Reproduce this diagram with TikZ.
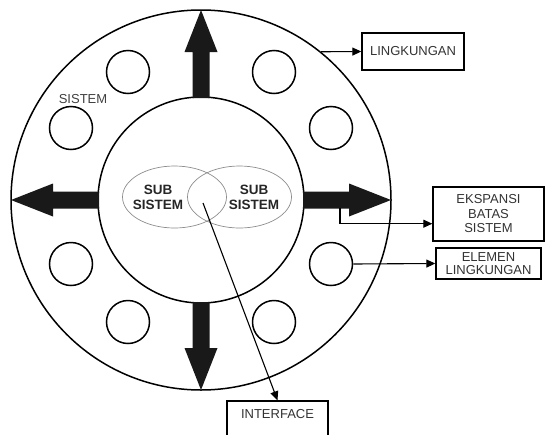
\documentclass[tikz,border=0pt]{standalone}
\usepackage{fontspec}
\setmainfont{Liberation Sans}
\usetikzlibrary{shapes.geometric,arrows.meta}

\begin{document}
\begin{tikzpicture}[x=1pt,y=-1pt,
  ring/.style={circle,draw,line width=1.5pt,inner sep=0pt},
  elem/.style={circle,draw,line width=1.5pt,minimum size=43pt,inner sep=0pt},
  sub/.style={ellipse,draw=black!45,line width=0.7pt,minimum width=104pt,minimum height=62pt,inner sep=0pt},
  subtext/.style={align=center,font=\fontsize{13.5}{15}\selectfont\bfseries,text=black!85,inner sep=0pt},
  labelbox/.style={draw,line width=1.4pt,inner sep=0pt,align=center,
    font=\fontsize{13}{14.5}\selectfont,text=black!80},
  conn/.style={line width=1.1pt,-{Triangle[length=9pt,width=8pt]}},
  bigarrow/.style={fill=black!90}]
\useasboundingbox (0,0) rectangle (545,434);

% system boundary and sub-system core
\node[ring,minimum size=380pt] (outer) at (201,200) {};
\node[ring,minimum size=206pt] (inner) at (201,200) {};

% environment elements
\node[elem] (e1) at (128,72) {};
\node[elem] (e2) at (274,72) {};
\node[elem] (e3) at (71,128) {};
\node[elem] (e4) at (331,128) {};
\node[elem] (e5) at (71,264) {};
\node[elem] (e6) at (331,264) {};
\node[elem] (e7) at (128,322) {};
\node[elem] (e8) at (274,322) {};

% expansion arrows from the core to the boundary
\foreach \a in {0,90,180,270}
  \fill[bigarrow,shift={(201,200)},rotate=\a]
    (102,-8.5) -- (148,-8.5) -- (148,-16.5) -- (190,0)
    -- (148,16.5) -- (148,8.5) -- (102,8.5) -- cycle;

% overlapping sub-systems
\node[sub] (sa) at (174.5,197) {};
\node[sub] (sb) at (239.5,197) {};
\node[subtext] (ta) at (158,197.5) {SUB\\SISTEM};
\node[subtext] (tb) at (254,197.5) {SUB\\SISTEM};

\node[font=\fontsize{13}{15}\selectfont,text=black!75,inner sep=0pt] (sys) at (83,99) {SISTEM};

% labels
\node[labelbox,minimum width=102pt,minimum height=37pt] (lingk) at (413,51.5) {LINGKUNGAN};
\node[labelbox,minimum width=111pt,minimum height=54pt] (eksp) at (488.5,214) {EKSPANSI\\BATAS\\SISTEM};
\node[labelbox,minimum width=105pt,minimum height=31pt,font=\fontsize{13}{13}\selectfont] (elemen) at (488.5,263.5) {ELEMEN\\LINGKUNGAN};
\node[labelbox,minimum width=101pt,minimum height=46pt,text depth=20pt] (iface) at (277.5,424) {INTERFACE};

% pointers
\coordinate (ek) at (340,208);
\coordinate (ifs) at (203,203);
\draw[conn] (outer.51.2) -- (lingk.west);
\draw[conn] (ek) |- ([yshift=18pt]eksp.south west);
\draw[conn] (e6.east) -- (elemen.west);
\draw[conn] (ifs) -- (iface.north);
\end{tikzpicture}
\end{document}
